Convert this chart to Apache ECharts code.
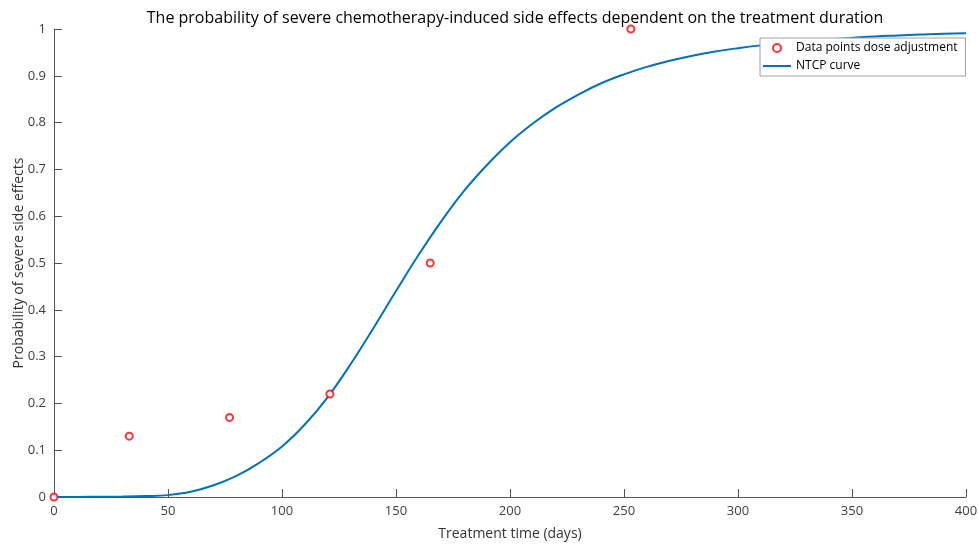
<!DOCTYPE html>
<html>
<head>
<meta charset="utf-8">
<script src="https://cdn.jsdelivr.net/npm/echarts@6/dist/echarts.min.js"></script>
<style>html,body{margin:0;padding:0;background:#fff}#c{width:979px;height:548px}</style>
</head>
<body>
<div id="c"></div>
<script>
// Observed data points (treatment days, probability)
var pointDays = [0, 33, 77, 121, 165, 253];
var pointProb = [0, 0.13, 0.17, 0.22, 0.50, 1.0];
// NTCP curve
var curveDays = [0,10,20,30,40,50,60,70,80,90,100,110,120,130,140,150,160,170,180,190,200,210,220,230,240,250,260,270,280,290,300,310,320,330,340,350,360,370,380,390,400];
var curveProb = [0,0,0.0005,0.001,0.002,0.004,0.011,0.025,0.045,0.073,0.108,0.155,0.213,0.283,0.36,0.44,0.518,0.59,0.655,0.71,0.758,0.798,0.832,0.86,0.884,0.903,0.919,0.932,0.943,0.952,0.959,0.965,0.97,0.974,0.978,0.981,0.984,0.986,0.988,0.99,0.991];

var font = '"Open Sans", "Noto Sans", sans-serif';
var chart = echarts.init(document.getElementById('c'));
chart.setOption({
  animation: false,
  textStyle: {fontFamily: font},
  title: {
    text: 'The probability of severe chemotherapy-induced side effects dependent on the treatment duration',
    left: 510, textAlign: 'center', top: 5,
    textStyle: {fontFamily: font, fontSize: 16, fontWeight: 'normal', color: '#000'}
  },
  legend: {
    left: 760, top: 38, orient: 'vertical',
    backgroundColor: '#fff', borderColor: '#a0a0a0', borderWidth: 1,
    padding: [4, 8, 4, 3], itemGap: 6, itemWidth: 28, itemHeight: 8,
    textStyle: {fontFamily: font, fontSize: 12, color: '#000'},
    data: [
      {name: 'Data points dose adjustment', icon: 'circle'},
      {name: 'NTCP curve', icon: 'path://M0,0L28,0L28,2L0,2Z'}
    ]
  },
  grid: {left: 54, right: 13, top: 29, bottom: 51, containLabel: false, outerBoundsMode: 'none'},
  xAxis: {
    type: 'value', min: 0, max: 400, interval: 50,
    name: 'Treatment time (days)', nameLocation: 'middle', nameGap: 30, nameMoveOverlap: false,
    nameTextStyle: {fontFamily: font, fontSize: 14, color: '#333'},
    axisLine: {lineStyle: {color: '#555', width: 1}},
    axisTick: {inside: true, length: 8, lineStyle: {color: '#555'}},
    axisLabel: {fontFamily: font, fontSize: 13, color: '#404040', margin: 8},
    splitLine: {show: false}
  },
  yAxis: {
    type: 'value', min: 0, max: 1, interval: 0.1,
    name: 'Probability of severe side effects', nameLocation: 'middle', nameGap: 28, nameMoveOverlap: false,
    nameTextStyle: {fontFamily: font, fontSize: 14, color: '#333'},
    axisLine: {show: true, lineStyle: {color: '#555', width: 1}},
    axisTick: {show: true, inside: true, length: 8, lineStyle: {color: '#555'}},
    axisLabel: {fontFamily: font, fontSize: 13, color: '#404040', margin: 8},
    splitLine: {show: false}
  },
  series: [
    {
      name: 'Data points dose adjustment', type: 'scatter', z: 3,
      symbol: 'circle', symbolSize: 7,
      itemStyle: {color: '#fff', borderColor: '#ff0000', borderWidth: 2},
      data: pointDays.map(function (d, i) { return [d, pointProb[i]]; })
    },
    {
      name: 'NTCP curve', type: 'line', smooth: 0.4, showSymbol: false, z: 2,
      lineStyle: {color: '#0072BD', width: 2}, itemStyle: {color: '#0072BD'},
      data: curveDays.map(function (d, i) { return [d, curveProb[i]]; })
    }
  ]
});
</script>
</body>
</html>
